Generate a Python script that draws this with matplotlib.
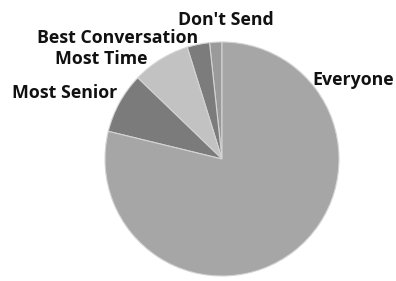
import matplotlib
matplotlib.use("Agg")
import matplotlib.pyplot as plt

labels = ["Don't Send", "Best Conversation", "Most Time", "Most Senior", "Everyone"]
shares = [1.7, 3.1, 8.0, 8.4, 78.8]
colors = ["#9a9a9a", "#7c7c7c", "#c2c2c2", "#7b7b7b", "#a6a6a6"]

# label anchor points in figure pixels (x, y from top), left-aligned
label_pos = [(178, 20), (37, 38), (55, 59), (12, 93), (312, 80)]

W, H = 396, 281
fig = plt.figure(figsize=(W / 100, H / 100), dpi=100)
cx, cy, r = 222, 159, 117
ax = fig.add_axes([(cx - r) / W, (H - cy - r) / H, 2 * r / W, 2 * r / H])

ax.pie(shares, colors=colors, startangle=90, counterclock=True,
       wedgeprops=dict(edgecolor="#d4d4d4", linewidth=0.8))
ax.set_xlim(-1.0, 1.0)
ax.set_ylim(-1.0, 1.0)
ax.set_aspect("equal")

for lab, (x, y) in zip(labels, label_pos):
    fig.text(x / W, 1 - y / H, lab, ha="left", va="center",
             fontsize=12.8, fontweight="bold", family="Open Sans", color="#111111")

fig.savefig("out.png", dpi=100)
